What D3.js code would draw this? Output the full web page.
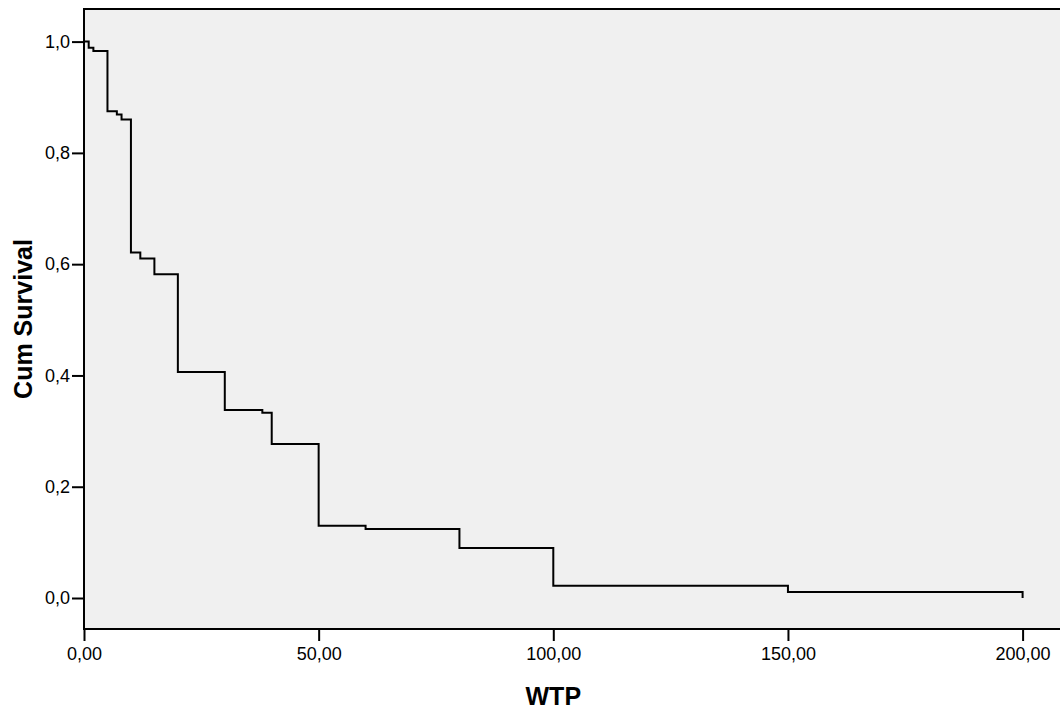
<!DOCTYPE html>
<html>
<head>
<meta charset="utf-8">
<script src="https://cdn.jsdelivr.net/npm/d3@7"></script>
<style>
    body { margin: 0; background: #fff; }
    svg { display: block; }
    .tick text { font-family: "Liberation Sans", Arial, sans-serif; }
</style>
</head>
<body>
<div id="frame-km"></div>
<script>
// VARIABLES
const width = 1060;
const height = 709;

// step function data (WTP, cumulative survival)
const wtp = [0, 1, 2, 5, 7, 8, 10, 12, 15, 20, 30, 38, 40, 50, 60, 80, 100, 150, 200];
const cumSurvival = [1.0, 0.989, 0.983, 0.875, 0.869, 0.860, 0.621, 0.610, 0.582, 0.406, 0.338, 0.333, 0.277, 0.130, 0.124, 0.090, 0.022, 0.011, 0.0];

const xTicks = [0, 50, 100, 150, 200];
const yTicks = [0, 0.2, 0.4, 0.6, 0.8, 1.0];

// plot frame
const plotL = 84, plotT = 9, plotR = 1062, plotB = 629;

const svg = d3.select("#frame-km")
    .append("svg")
        .attr("width", width)
        .attr("height", height);

const x = d3.scaleLinear()
    .domain([0, (plotR - plotL) / 4.693])
    .range([plotL, plotR]);

const y = d3.scaleLinear()
    .domain([-0.0557, 1.0586])
    .range([plotB, plotT]);

// plot background
svg.append("rect")
    .attr("x", plotL)
    .attr("y", plotT)
    .attr("width", plotR - plotL)
    .attr("height", plotB - plotT)
    .attr("fill", "#f0f0f0")
    .attr("stroke", "#000")
    .attr("stroke-width", 2);

const fmtX = d => d3.format(".2f")(d).replace(".", ",");
const fmtY = d => d3.format(".1f")(d).replace(".", ",");

// axes
const xAxis = svg.append("g")
    .attr("transform", `translate(0,${plotB})`)
    .call(d3.axisBottom(x).tickValues(xTicks).tickFormat(fmtX).tickSize(12).tickPadding(6));

const yAxis = svg.append("g")
    .attr("transform", `translate(${plotL},0)`)
    .call(d3.axisLeft(y).tickValues(yTicks).tickFormat(fmtY).tickSize(12).tickPadding(2));

[xAxis, yAxis].forEach(g => {
    g.select(".domain").remove();
    g.selectAll(".tick line").attr("stroke", "#000").attr("stroke-width", 2);
    g.selectAll(".tick text")
        .attr("fill", "#000")
        .style("font-size", "18px");
});

// survival step line
const pts = wtp.map((d, i) => [d, cumSurvival[i]]);
svg.append("path")
    .datum(pts)
    .attr("fill", "none")
    .attr("stroke", "#000")
    .attr("stroke-width", 2)
    .attr("d", d3.line()
        .x(d => x(d[0]))
        .y(d => y(d[1]))
        .curve(d3.curveStepAfter));

// axis titles
svg.append("text")
    .attr("x", x(100))
    .attr("y", 705)
    .attr("text-anchor", "middle")
    .style("font-family", "'Liberation Sans', Arial, sans-serif")
    .style("font-weight", "bold")
    .style("font-size", "25px")
    .text("WTP");

svg.append("text")
    .attr("transform", `translate(32,${(plotT + plotB) / 2}) rotate(-90)`)
    .attr("text-anchor", "middle")
    .style("font-family", "'Liberation Sans', Arial, sans-serif")
    .style("font-weight", "bold")
    .style("font-size", "25px")
    .text("Cum Survival");
</script>
</body>
</html>
